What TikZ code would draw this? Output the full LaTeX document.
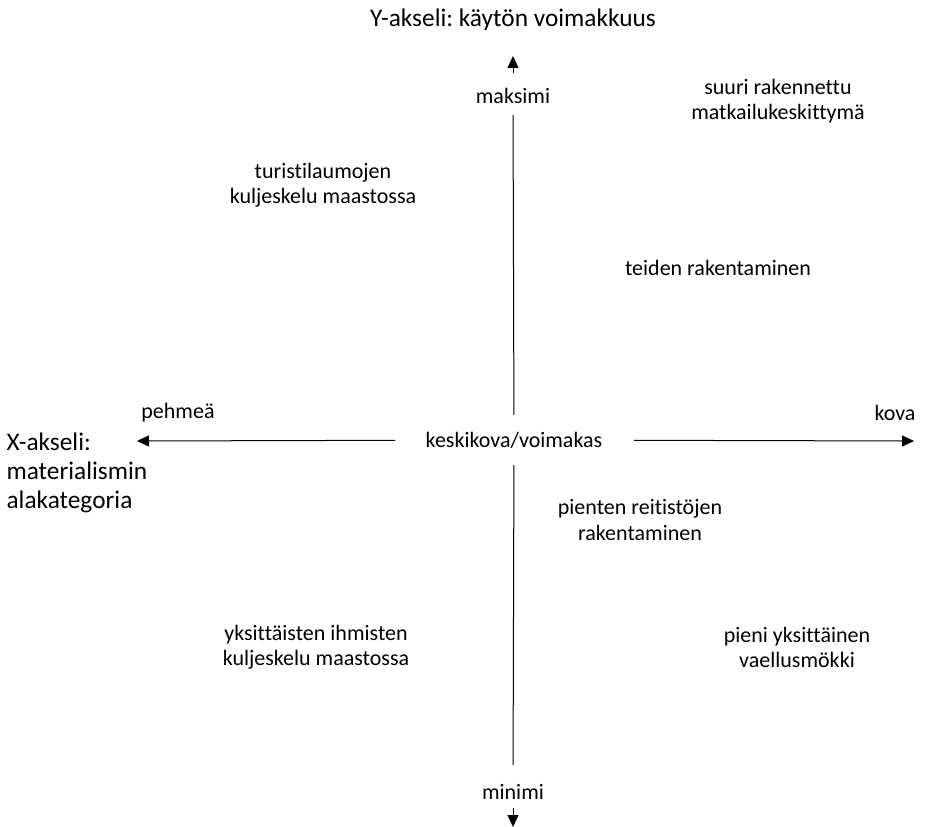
\documentclass[tikz,border=0pt]{standalone}
\usepackage{fontspec}
\setmainfont{Carlito}[RawFeature={-liga}]
\usetikzlibrary{arrows.meta}
\frenchspacing

\tikzset{
  lbl/.style={inner sep=1pt,align=center,font=\fontsize{16.5}{18.8}\selectfont},
  axlbl/.style={inner sep=1pt,font=\fontsize{19}{21.8}\selectfont},
  axis/.style={line width=0.75pt},
  tip/.style={axis,-{Triangle[length=9pt,width=8.25pt]}}
}

\begin{document}
\begin{tikzpicture}[x=0.75pt,y=-0.75pt]
  \useasboundingbox (0,0) rectangle (926,827);

  % axis titles
  \node[axlbl] (ytitle) at (513,20) {Y-akseli: käytön voimakkuus};
  \node[axlbl,anchor=west,align=left] (xtitle) at (5,473) {X-akseli:\\materialismin\\alakategoria};

  % axis ends
  \node[lbl] (mid) at (514,440) {keskikova/voimakas};
  \node[lbl] (max) at (513,96) {maksimi};
  \node[lbl] (min) at (513,792) {minimi};
  \node[lbl] (soft) at (178,413) {pehmeä};
  \node[lbl] (hard) at (895,413) {kova};
  \coordinate (xl) at (137,441);
  \coordinate (xr) at (914,441);
  \coordinate (yb) at (513,827);

  \draw[axis,shorten <=14.25pt,shorten >=18.75pt] (max.center) -- (mid.center);
  \draw[axis,shorten <=18.75pt,shorten >=20.25pt] (mid.center) -- (min.center);
  \draw[tip,shorten <=17.25pt,shorten >=27pt] (max.center) -- (ytitle.center);
  \draw[tip,shorten <=12pt] (min.center) -- (yb);
  \draw[tip,shorten <=89.25pt] (mid.center) -- (xl);
  \draw[tip,shorten <=90pt] (mid.center) -- (xr);

  % examples
  \node[lbl] (tour) at (323,185) {turistilaumojen\\kuljeskelu maastossa};
  \node[lbl] (resort) at (778,101) {suuri rakennettu\\matkailukeskittymä};
  \node[lbl] (roads) at (718,268) {teiden rakentaminen};
  \node[lbl] (trails) at (640,520) {pienten reitistöjen\\rakentaminen};
  \node[lbl] (single) at (316,647) {yksittäisten ihmisten\\kuljeskelu maastossa};
  \node[lbl] (hut) at (797,647) {pieni yksittäinen\\vaellusmökki};
\end{tikzpicture}
\end{document}
